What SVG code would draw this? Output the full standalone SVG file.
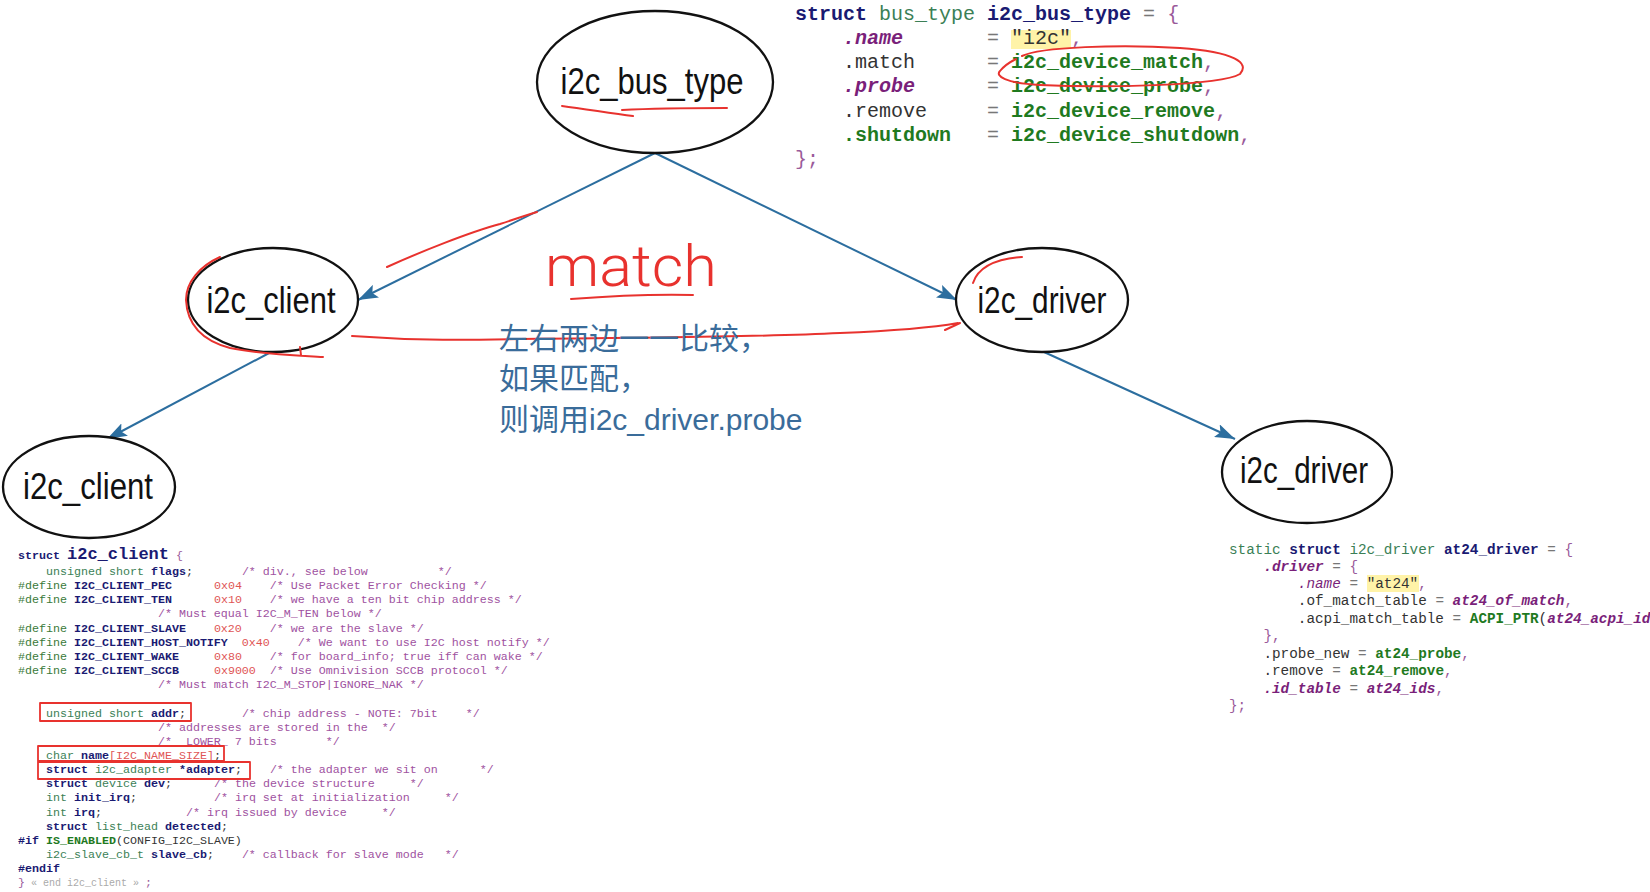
<svg xmlns="http://www.w3.org/2000/svg" width="1650" height="892" viewBox="0 0 1650 892">
<style>
.node ellipse{fill:#fff;stroke:#111;stroke-width:2.3}
.lbl{font-family:"Liberation Sans",Arial,sans-serif;font-size:36px;fill:#111;text-anchor:middle}
.edge{stroke:#2c6e9f;stroke-width:2;fill:none;marker-end:url(#arr)}
.red{stroke:#e8322e;stroke-width:2;fill:none;stroke-linecap:round;stroke-linejoin:round}
.code{font-family:"Liberation Mono","DejaVu Sans Mono",monospace;fill:#333}
.c1{font-size:20px}
.c2{font-size:11.67px}
.c3{font-size:14.33px}
.kw{fill:#1a1a72;font-weight:bold}
.ty{fill:#3b7f56}
.fn{fill:#1f7a1f;font-weight:bold}
.cm{fill:#a0529f}
.num{fill:#e05555}
.pp{fill:#3a7a3a}
.it{fill:#7a1f7a;font-style:italic}
.itb{fill:#7a1f7a;font-style:italic;font-weight:bold}
.pu{fill:#9a5a9a}
.op{fill:#777}
.pl{fill:#333}
.cn{font-family:"Liberation Sans","Noto Sans CJK SC",sans-serif;font-size:30px;fill:#3a6c9a}
</style>
<defs>
<marker id="arr" viewBox="0 0 20 14" refX="20" refY="7" markerWidth="20" markerHeight="14" markerUnits="userSpaceOnUse" orient="auto">
<path d="M0,0 L20,7 L0,14 L4,7 z" fill="#2c6e9f"/>
</marker>
</defs>
<rect width="1650" height="892" fill="#fff"/>

<g id="connectors">
<line class="edge" x1="655" y1="153" x2="358" y2="300"/>
<line class="edge" x1="655" y1="153" x2="957" y2="300"/>
<line class="edge" x1="271" y1="352" x2="107" y2="439"/>
<line class="edge" x1="1044" y1="352" x2="1235" y2="439"/>
</g>

<g id="node-i2c_bus_type" class="node">
<ellipse cx="655" cy="82" rx="118" ry="71"/>
<text class="lbl" x="652" y="94" textLength="183" lengthAdjust="spacingAndGlyphs">i2c_bus_type</text>
</g>
<g id="node-i2c_client-1" class="node">
<ellipse cx="273" cy="300" rx="85" ry="52"/>
<text class="lbl" x="271" y="313" textLength="129" lengthAdjust="spacingAndGlyphs">i2c_client</text>
</g>
<g id="node-i2c_driver-1" class="node">
<ellipse cx="1042" cy="300" rx="86" ry="52"/>
<text class="lbl" x="1042" y="313" textLength="129" lengthAdjust="spacingAndGlyphs">i2c_driver</text>
</g>
<g id="node-i2c_client-2" class="node">
<ellipse cx="89" cy="487" rx="86" ry="51"/>
<text class="lbl" x="88" y="499" textLength="130" lengthAdjust="spacingAndGlyphs">i2c_client</text>
</g>
<g id="node-i2c_driver-2" class="node">
<ellipse cx="1307" cy="472" rx="85" ry="51"/>
<text class="lbl" x="1304" y="483" textLength="128" lengthAdjust="spacingAndGlyphs">i2c_driver</text>
</g>

<g id="code-bus-type" class="code c1">
<rect x="1011" y="30" width="60" height="19" fill="#fff3a8"/>
<text xml:space="preserve" x="795" y="20"><tspan class="kw">struct</tspan> <tspan class="ty">bus_type</tspan> <tspan class="kw">i2c_bus_type</tspan> <tspan class="op">=</tspan> <tspan class="pu">{</tspan></text>
<text xml:space="preserve" x="795" y="44">    <tspan class="itb">.name</tspan>       <tspan class="op">=</tspan> <tspan class="pl">"i2c"</tspan><tspan class="pu">,</tspan></text>
<text xml:space="preserve" x="795" y="68">    <tspan class="pl">.match</tspan>      <tspan class="op">=</tspan> <tspan class="fn">i2c_device_match</tspan><tspan class="pu">,</tspan></text>
<text xml:space="preserve" x="795" y="92">    <tspan class="itb">.probe</tspan>      <tspan class="op">=</tspan> <tspan class="fn">i2c_device_probe</tspan><tspan class="pu">,</tspan></text>
<text xml:space="preserve" x="795" y="117">    <tspan class="pl">.remove</tspan>     <tspan class="op">=</tspan> <tspan class="fn">i2c_device_remove</tspan><tspan class="pu">,</tspan></text>
<text xml:space="preserve" x="795" y="141">    <tspan class="fn">.shutdown</tspan>   <tspan class="op">=</tspan> <tspan class="fn">i2c_device_shutdown</tspan><tspan class="pu">,</tspan></text>
<text xml:space="preserve" x="795" y="165"><tspan class="pu">};</tspan></text>
</g>

<g id="code-i2c-client" class="code c2">
<text xml:space="preserve" x="18" y="559"><tspan class="kw">struct</tspan> <tspan class="kw" style="font-size:17px">i2c_client</tspan> <tspan class="pu">{</tspan></text>
<text xml:space="preserve" x="18" y="575">    <tspan class="ty">unsigned short</tspan> <tspan class="kw">flags</tspan>;       <tspan class="cm">/* div., see below          */</tspan></text>
<text xml:space="preserve" x="18" y="589"><tspan class="pp">#define</tspan> <tspan class="kw">I2C_CLIENT_PEC</tspan>      <tspan class="num">0x04</tspan>    <tspan class="cm">/* Use Packet Error Checking */</tspan></text>
<text xml:space="preserve" x="18" y="603"><tspan class="pp">#define</tspan> <tspan class="kw">I2C_CLIENT_TEN</tspan>      <tspan class="num">0x10</tspan>    <tspan class="cm">/* we have a ten bit chip address */</tspan></text>
<text xml:space="preserve" x="18" y="617">                    <tspan class="cm">/* Must equal I2C_M_TEN below */</tspan></text>
<text xml:space="preserve" x="18" y="632"><tspan class="pp">#define</tspan> <tspan class="kw">I2C_CLIENT_SLAVE</tspan>    <tspan class="num">0x20</tspan>    <tspan class="cm">/* we are the slave */</tspan></text>
<text xml:space="preserve" x="18" y="646"><tspan class="pp">#define</tspan> <tspan class="kw">I2C_CLIENT_HOST_NOTIFY</tspan>  <tspan class="num">0x40</tspan>    <tspan class="cm">/* We want to use I2C host notify */</tspan></text>
<text xml:space="preserve" x="18" y="660"><tspan class="pp">#define</tspan> <tspan class="kw">I2C_CLIENT_WAKE</tspan>     <tspan class="num">0x80</tspan>    <tspan class="cm">/* for board_info; true iff can wake */</tspan></text>
<text xml:space="preserve" x="18" y="674"><tspan class="pp">#define</tspan> <tspan class="kw">I2C_CLIENT_SCCB</tspan>     <tspan class="num">0x9000</tspan>  <tspan class="cm">/* Use Omnivision SCCB protocol */</tspan></text>
<text xml:space="preserve" x="18" y="688">                    <tspan class="cm">/* Must match I2C_M_STOP|IGNORE_NAK */</tspan></text>
<text xml:space="preserve" x="18" y="717">    <tspan class="ty">unsigned short</tspan> <tspan class="kw">addr</tspan>;        <tspan class="cm">/* chip address - NOTE: 7bit    */</tspan></text>
<text xml:space="preserve" x="18" y="731">                    <tspan class="cm">/* addresses are stored in the  */</tspan></text>
<text xml:space="preserve" x="18" y="745">                    <tspan class="cm">/* _LOWER_ 7 bits       */</tspan></text>
<text xml:space="preserve" x="18" y="759">    <tspan class="ty">char</tspan> <tspan class="kw">name</tspan><tspan class="num">[I2C_NAME_SIZE]</tspan>;</text>
<text xml:space="preserve" x="18" y="773">    <tspan class="kw">struct</tspan> <tspan class="ty">i2c_adapter</tspan> <tspan class="kw">*adapter</tspan>;    <tspan class="cm">/* the adapter we sit on      */</tspan></text>
<text xml:space="preserve" x="18" y="787">    <tspan class="kw">struct</tspan> <tspan class="ty">device</tspan> <tspan class="kw">dev</tspan>;      <tspan class="cm">/* the device structure     */</tspan></text>
<text xml:space="preserve" x="18" y="801">    <tspan class="ty">int</tspan> <tspan class="kw">init_irq</tspan>;           <tspan class="cm">/* irq set at initialization     */</tspan></text>
<text xml:space="preserve" x="18" y="816">    <tspan class="ty">int</tspan> <tspan class="kw">irq</tspan>;            <tspan class="cm">/* irq issued by device     */</tspan></text>
<text xml:space="preserve" x="18" y="830">    <tspan class="kw">struct</tspan> <tspan class="ty">list_head</tspan> <tspan class="kw">detected</tspan>;</text>
<text xml:space="preserve" x="18" y="844"><tspan class="kw">#if</tspan> <tspan class="fn">IS_ENABLED</tspan>(CONFIG_I2C_SLAVE)</text>
<text xml:space="preserve" x="18" y="858">    <tspan class="ty">i2c_slave_cb_t</tspan> <tspan class="kw">slave_cb</tspan>;    <tspan class="cm">/* callback for slave mode   */</tspan></text>
<text xml:space="preserve" x="18" y="872"><tspan class="kw">#endif</tspan></text>
<text xml:space="preserve" x="18" y="886"><tspan class="pu">}</tspan><tspan style="fill:#aaa;font-size:10px"> « end i2c_client » </tspan><tspan class="pu">;</tspan></text>
<rect class="red" x="40" y="703" width="151" height="18" style="stroke-width:1.8"/>
<rect class="red" x="38" y="746" width="186" height="15" style="stroke-width:1.8"/>
<rect class="red" x="38" y="762" width="212" height="17" style="stroke-width:1.8"/>
</g>

<g id="code-at24-driver" class="code c3">
<rect x="1367" y="575" width="52" height="17" fill="#fff3a8"/>
<text xml:space="preserve" x="1229" y="554"><tspan class="ty">static</tspan> <tspan class="kw">struct</tspan> <tspan class="ty">i2c_driver</tspan> <tspan class="kw">at24_driver</tspan> <tspan class="op">=</tspan> <tspan class="pu">{</tspan></text>
<text xml:space="preserve" x="1229" y="571">    <tspan class="itb">.driver</tspan> <tspan class="op">=</tspan> <tspan class="pu">{</tspan></text>
<text xml:space="preserve" x="1229" y="588">        <tspan class="it">.name</tspan> <tspan class="op">=</tspan> <tspan class="pl">"at24"</tspan><tspan class="pu">,</tspan></text>
<text xml:space="preserve" x="1229" y="605">        <tspan class="pl">.of_match_table</tspan> <tspan class="op">=</tspan> <tspan class="itb">at24_of_match</tspan><tspan class="pu">,</tspan></text>
<text xml:space="preserve" x="1229" y="623">        <tspan class="pl">.acpi_match_table</tspan> <tspan class="op">=</tspan> <tspan class="fn">ACPI_PTR</tspan><tspan class="pl">(</tspan><tspan class="itb">at24_acpi_ids</tspan><tspan class="pl">)</tspan><tspan class="pu">,</tspan></text>
<text xml:space="preserve" x="1229" y="640">    <tspan class="pu">},</tspan></text>
<text xml:space="preserve" x="1229" y="658">    <tspan class="pl">.probe_new</tspan> <tspan class="op">=</tspan> <tspan class="fn">at24_probe</tspan><tspan class="pu">,</tspan></text>
<text xml:space="preserve" x="1229" y="675">    <tspan class="pl">.remove</tspan> <tspan class="op">=</tspan> <tspan class="fn">at24_remove</tspan><tspan class="pu">,</tspan></text>
<text xml:space="preserve" x="1229" y="693">    <tspan class="itb">.id_table</tspan> <tspan class="op">=</tspan> <tspan class="itb">at24_ids</tspan><tspan class="pu">,</tspan></text>
<text xml:space="preserve" x="1229" y="710"><tspan class="pu">};</tspan></text>
</g>

<g id="annotations">
<path class="red" d="M562,106 C585,109 610,113 633,116 M622,110 C660,108 700,108 727,108"/>
<path class="red" d="M387,267 C420,252 470,232 500,224 C515,219 527,215 537,212"/>
<path class="red" d="M220,257 C200,266 186,282 186,300 C187,322 200,340 230,348 C260,354 290,355 323,357 M300,347 L301,355"/>
<path class="red" d="M973,283 C978,268 995,259 1022,257"/>
<path class="red" d="M352,336 C420,341 470,340 520,339 C650,338 760,337 840,333 C890,331 930,328 958,323 M945,330 L960,323"/>
<path class="red" d="M571,299 C610,296 650,294 693,295"/>
<text x="545" y="286" textLength="172" lengthAdjust="spacingAndGlyphs" style="font-family:Roboto,'Open Sans',sans-serif;font-weight:300;font-size:58px;fill:#e8322e">match</text>
<path class="red" d="M1022,56 C1040,47 1120,44 1180,48 C1235,52 1250,63 1240,74 C1220,86 1100,88 1040,85 C1005,83 995,76 1000,71 C1004,66 1010,62 1016,59"/>
</g>

<g id="note">
<text class="cn" x="499" y="349">左右两边一一比较，</text>
<text class="cn" x="499" y="389">如果匹配，</text>
<text class="cn" x="499" y="430">则调用i2c_driver.probe</text>
</g>
</svg>
